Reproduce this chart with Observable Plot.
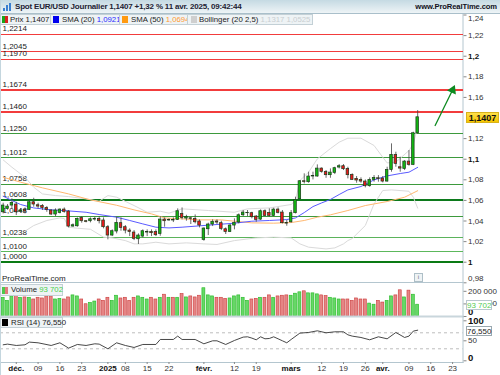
<!DOCTYPE html>
<html><head><meta charset="utf-8">
<script src="https://cdn.jsdelivr.net/npm/d3@7"></script>
<script src="https://cdn.jsdelivr.net/npm/@observablehq/plot@0.6"></script>
<style>
html,body{margin:0;padding:0;background:#fff;overflow:hidden}
#root{position:relative;width:500px;height:375px;font-family:"Liberation Sans",sans-serif;color:#222;overflow:hidden}
.p{position:absolute;left:0}
.p svg{display:block}
.abs{position:absolute;white-space:nowrap}
.box{position:absolute;background:#eef3f5;border:1px solid #c3d0d6;box-sizing:border-box;font-size:7.8px;line-height:9px;white-space:nowrap}
.sw{position:absolute;display:block;width:6px;height:7px;top:1px}
.tag{position:absolute;box-sizing:border-box;text-align:center;white-space:nowrap;font-size:8.6px}
</style></head><body><div id="root"></div>
<script>
const sessions=["2024-11-27","2024-11-28","2024-11-29","2024-12-02","2024-12-03","2024-12-04","2024-12-05","2024-12-06","2024-12-09","2024-12-10","2024-12-11","2024-12-12","2024-12-13","2024-12-16","2024-12-17","2024-12-18","2024-12-19","2024-12-20","2024-12-23","2024-12-24","2024-12-26","2024-12-27","2024-12-30","2024-12-31","2025-01-02","2025-01-03","2025-01-06","2025-01-07","2025-01-08","2025-01-09","2025-01-10","2025-01-13","2025-01-14","2025-01-15","2025-01-16","2025-01-17","2025-01-20","2025-01-21","2025-01-22","2025-01-23","2025-01-24","2025-01-27","2025-01-28","2025-01-29","2025-01-30","2025-01-31","2025-02-03","2025-02-04","2025-02-05","2025-02-06","2025-02-07","2025-02-10","2025-02-11","2025-02-12","2025-02-13","2025-02-14","2025-02-17","2025-02-18","2025-02-19","2025-02-20","2025-02-21","2025-02-24","2025-02-25","2025-02-26","2025-02-27","2025-02-28","2025-03-03","2025-03-04","2025-03-05","2025-03-06","2025-03-07","2025-03-10","2025-03-11","2025-03-12","2025-03-13","2025-03-14","2025-03-17","2025-03-18","2025-03-19","2025-03-20","2025-03-21","2025-03-24","2025-03-25","2025-03-26","2025-03-27","2025-03-28","2025-03-31","2025-04-01","2025-04-02","2025-04-03","2025-04-04","2025-04-07","2025-04-08","2025-04-09","2025-04-10","2025-04-11","2025-04-14","2025-04-15","2025-04-16","2025-04-17","2025-04-18","2025-04-21","2025-04-22","2025-04-23","2025-04-24","2025-04-25"];
const opens=[1.0485,1.0518,1.0550,1.0560,1.0492,1.0508,1.0508,1.0582,1.0553,1.0547,1.0527,1.0502,1.0463,1.0479,1.0511,1.0492,1.0346,1.0349,1.0430,1.0398,1.0398,1.0414,1.0421,1.0405,1.0340,1.0259,1.0298,1.0379,1.0340,1.0307,1.0288,1.0223,1.0249,1.0288,1.0294,1.0294,1.0275,1.0414,1.0405,1.0411,1.0411,1.0469,1.0424,1.0427,1.0421,1.0395,1.0217,1.0320,1.0366,1.0395,1.0379,1.0320,1.0294,1.0356,1.0385,1.0456,1.0476,1.0476,1.0443,1.0414,1.0495,1.0479,1.0450,1.0511,1.0482,1.0382,1.0388,1.0476,1.0612,1.0786,1.0777,1.0832,1.0832,1.0909,1.0877,1.0845,1.0867,1.0919,1.0932,1.0906,1.0848,1.0809,1.0799,1.0783,1.0738,1.0799,1.0815,1.0812,1.0783,1.0896,1.1042,1.0922,1.0906,1.0977,1.0945,1.1252];
const highs=[1.0573,1.0560,1.0615,1.0582,1.0518,1.0527,1.0599,1.0621,1.0573,1.0560,1.0540,1.0511,1.0518,1.0518,1.0527,1.0502,1.0372,1.0430,1.0443,1.0405,1.0430,1.0437,1.0443,1.0430,1.0356,1.0314,1.0437,1.0430,1.0356,1.0324,1.0307,1.0275,1.0314,1.0314,1.0314,1.0314,1.0443,1.0430,1.0421,1.0430,1.0518,1.0527,1.0456,1.0430,1.0459,1.0411,1.0333,1.0379,1.0411,1.0411,1.0398,1.0333,1.0366,1.0421,1.0469,1.0502,1.0502,1.0485,1.0453,1.0508,1.0508,1.0518,1.0524,1.0527,1.0502,1.0405,1.0502,1.0631,1.0793,1.0858,1.0874,1.0874,1.0945,1.0916,1.0890,1.0906,1.0922,1.0948,1.0948,1.0922,1.0858,1.0832,1.0819,1.0799,1.0819,1.0841,1.0841,1.0832,1.0922,1.1149,1.1068,1.1019,1.0987,1.1084,1.1262,1.1472];
const lows=[1.0469,1.0505,1.0518,1.0453,1.0476,1.0469,1.0502,1.0534,1.0518,1.0502,1.0485,1.0453,1.0443,1.0469,1.0476,1.0333,1.0340,1.0340,1.0379,1.0382,1.0382,1.0398,1.0372,1.0324,1.0217,1.0249,1.0275,1.0301,1.0275,1.0249,1.0210,1.0172,1.0236,1.0249,1.0249,1.0249,1.0252,1.0340,1.0398,1.0385,1.0405,1.0411,1.0398,1.0366,1.0372,1.0333,1.0204,1.0259,1.0346,1.0366,1.0307,1.0269,1.0288,1.0314,1.0372,1.0443,1.0443,1.0421,1.0388,1.0405,1.0443,1.0437,1.0443,1.0469,1.0372,1.0349,1.0379,1.0469,1.0605,1.0760,1.0767,1.0799,1.0825,1.0864,1.0815,1.0815,1.0851,1.0906,1.0890,1.0809,1.0793,1.0767,1.0767,1.0722,1.0728,1.0777,1.0777,1.0770,1.0777,1.0874,1.0922,1.0874,1.0890,1.0932,1.0938,1.1246];
const closes=[1.0550,1.0540,1.0576,1.0485,1.0502,1.0492,1.0582,1.0560,1.0540,1.0527,1.0508,1.0463,1.0502,1.0511,1.0489,1.0346,1.0359,1.0421,1.0398,1.0392,1.0417,1.0421,1.0398,1.0340,1.0259,1.0301,1.0382,1.0333,1.0307,1.0294,1.0227,1.0259,1.0301,1.0294,1.0282,1.0262,1.0414,1.0398,1.0411,1.0405,1.0495,1.0430,1.0440,1.0421,1.0388,1.0356,1.0327,1.0366,1.0392,1.0385,1.0324,1.0294,1.0356,1.0382,1.0456,1.0482,1.0479,1.0437,1.0411,1.0495,1.0450,1.0450,1.0511,1.0479,1.0379,1.0375,1.0476,1.0605,1.0786,1.0780,1.0832,1.0838,1.0909,1.0877,1.0845,1.0870,1.0913,1.0932,1.0903,1.0845,1.0799,1.0793,1.0783,1.0738,1.0799,1.0819,1.0809,1.0783,1.0896,1.1042,1.0955,1.0909,1.0977,1.0945,1.1252,1.1407];
const volumes=[148700,124300,159500,167600,148700,151400,148700,135200,148700,143300,159500,159500,135200,140600,135200,151400,167600,159500,135200,97300,108100,118900,135200,124300,148700,124300,164900,143300,148700,124300,148700,159500,148700,135200,148700,135200,148700,173000,148700,148700,148700,178400,151400,159500,151400,164900,224300,167600,159500,148700,148700,140600,143300,159500,167600,148700,124300,135200,140600,148700,148700,167600,148700,159500,164900,167600,164900,181000,192000,200000,183800,183800,175700,167600,162200,148700,143300,135200,135200,135200,124300,143300,135200,135200,102700,93700,124300,110800,124300,159500,167600,208000,151400,205400,173000,93702];
const sma20Idx=[0,2,4,7,11,15,19,22,26,29,32,35,38,41,45,49,53,57,61,65,67,69,71,73,75,77,79,82,85,88,91,93,95];
const sma20=[1.0641,1.0599,1.0560,1.0527,1.0508,1.0498,1.0485,1.0463,1.0437,1.0405,1.0372,1.0340,1.0333,1.0340,1.0353,1.0366,1.0379,1.0398,1.0405,1.0414,1.0430,1.0482,1.0540,1.0576,1.0609,1.0657,1.0702,1.0735,1.0799,1.0838,1.0861,1.0874,1.0921];
const sma50Idx=[0,4,9,15,20,26,30,34,37,41,45,50,53,57,62,66,69,72,75,79,83,88,92,95];
const sma50=[1.0825,1.0777,1.0722,1.0663,1.0605,1.0553,1.0508,1.0469,1.0430,1.0421,1.0411,1.0411,1.0398,1.0382,1.0379,1.0385,1.0405,1.0437,1.0460,1.0502,1.0550,1.0589,1.0631,1.0694];
const bollUpIdx=[0,2,5,7,9,12,15,19,22,24,26,30,33,36,38,41,47,53,56,61,66,67,68,70,72,75,77,79,82,85,87,88,90,93,94,95];
const bollUp=[1.0993,1.0922,1.0825,1.0728,1.0663,1.0647,1.0637,1.0615,1.0592,1.0647,1.0631,1.0550,1.0485,1.0495,1.0476,1.0518,1.0502,1.0485,1.0518,1.0527,1.0560,1.0599,1.0793,1.0874,1.1003,1.1103,1.1165,1.1204,1.1204,1.1133,1.1019,1.0964,1.0971,1.1084,1.1149,1.1317];
const bollLowIdx=[5,7,10,13,14,15,17,20,23,25,28,30,32,35,38,42,46,49,53,58,62,66,68,70,74,76,78,79,80,83,85,87,89,93,94,95];
const bollLow=[1.0301,1.0356,1.0405,1.0430,1.0424,1.0340,1.0330,1.0320,1.0243,1.0236,1.0210,1.0178,1.0178,1.0194,1.0178,1.0188,1.0178,1.0172,1.0210,1.0236,1.0243,1.0236,1.0178,1.0146,1.0129,1.0139,1.0178,1.0210,1.0230,1.0356,1.0566,1.0696,1.0702,1.0689,1.0631,1.0525];
const rsiIdx=[0,1,3,5,6,8,11,13,15,17,19,21,22,24,26,28,30,32,35,36,39,40,41,44,46,48,49,51,53,55,56,57,58,59,60,61,62,63,64,65,66,68,70,72,74,76,78,79,80,82,84,86,88,90,92,93,94,95];
const rsi=[40,41.7,38.3,40,46.7,45,38.3,45,31.7,40.8,38.3,42.5,41.7,30,45,38.3,33.3,40.8,40.8,53.3,53.3,61.7,53.3,53.3,42.5,50,50,40.8,50.8,59.2,60,56.7,52.5,60,55,55.8,60,55,50,45,53.3,69.2,70.8,75,70,72.5,72.5,65,61.7,58.3,52.5,60,55,70.8,58.3,61.7,74.2,76.55];
const redLevels=[1.2214,1.2045,1.1970,1.1674,1.1460];
const redWidths=[1,1,1,2,2];
const greenLevels=[1.1250,1.1012,1.0758,1.0608,1.0448,1.0238,1.0100,1.0000];
const greenWidths=[1,1,1,2,1,1,1,2];
const greenColors=["#3d9a3d","#3d9a3d","#3d9a3d","#0c7a1c","#3d9a3d","#5bb35b","#5cb85c","#0a7a14"];
const priceTicks=[1.22,1.18,1.16,1.12,1.08,1.06,1.04,1.02];
const priceBoldTicks=[1.2,1.1,1];
const dateTicks=["2024-12-09","2024-12-16","2024-12-23","2025-01-08","2025-01-15","2025-01-22","2025-02-12","2025-02-19","2025-03-12","2025-03-19","2025-03-26","2025-04-09","2025-04-16","2025-04-23"];
const dateBoldTicks=["2024-12-02","2025-01-02","2025-02-03","2025-03-03","2025-04-01"];
const dateBoldLabels=["déc.","2025","févr.","mars","avr."];
const arrowFrom={d:"2025-04-17",p:1.1327}, arrowTo={d:"2025-04-23",p:1.1672};

const FONT='"Liberation Sans",sans-serif', W=500, MR=37.5;
const xScale={type:"band",domain:sessions,range:[0.5,463],padding:0,round:false};
const xHidden={...xScale,axis:null};
const comma=d=>String(d).replace(".",",");
const candles=opens.map((o,i)=>({d:sessions[i],o,h:highs[i],l:lows[i],c:closes[i],v:volumes[i],up:closes[i]>=o}));
const sparse=(idx,vals)=>idx.map((k,j)=>({d:sessions[k],v:vals[j]}));
const axisColor="#b4c6cf";
function place(svg,top){const w=document.createElement("div");w.className="p";w.style.top=top+"px";w.appendChild(svg);root.appendChild(w);}
const root=document.getElementById("root");
const base={width:W,marginLeft:0,marginRight:MR,marginTop:0,style:{fontFamily:FONT,fontSize:"8px",color:"#222",background:"transparent",overflow:"visible"}};

const main=Plot.plot({...base,height:268,marginBottom:0,
 x:xHidden,y:{domain:[0.9803,1.2405],range:[268,0]},
 marks:[
  Plot.frame({anchor:"right",stroke:axisColor}),
  Plot.ruleY(redLevels,{y:d=>d,stroke:"#f23c3c",strokeWidth:(d,i)=>redWidths[i],shapeRendering:"crispEdges"}),
  Plot.ruleY(greenLevels,{y:d=>d,stroke:(d,i)=>greenColors[i],strokeWidth:(d,i)=>greenWidths[i],shapeRendering:"crispEdges"}),
  Plot.text([...redLevels,...greenLevels],{y:d=>d,text:d=>d.toFixed(4).replace(".",","),frameAnchor:"left",textAnchor:"start",dx:2,dy:-5.5,fill:"#222"}),
  Plot.line(sparse(bollUpIdx,bollUp),{x:"d",y:"v",stroke:"#dadada",strokeWidth:1}),
  Plot.line(sparse(bollLowIdx,bollLow),{x:"d",y:"v",stroke:"#dadada",strokeWidth:1}),
  Plot.line(sparse(sma50Idx,sma50),{x:"d",y:"v",stroke:"#ffb870",strokeWidth:1}),
  Plot.line(sparse(sma20Idx,sma20),{x:"d",y:"v",stroke:"#5a5aff",strokeWidth:1}),
  Plot.ruleX(candles,{x:"d",y1:"l",y2:"h",stroke:"#444",strokeWidth:0.8}),
  Plot.barY(candles,{x:"d",y1:"o",y2:"c",fill:d=>d.up?"#12b512":"#e8181c",stroke:"#1c3a1c",strokeWidth:0.7,insetLeft:0.9,insetRight:0.9}),
  Plot.arrow([0],{x1:()=>arrowFrom.d,y1:()=>arrowFrom.p,x2:()=>arrowTo.d,y2:()=>arrowTo.p,stroke:"#0d8a20",strokeWidth:1.3,headLength:0}),
  Plot.dot([0],{x:()=>arrowTo.d,y:()=>arrowTo.p,symbol:"triangle",r:3.6,fill:"#0d8a20",rotate:24}),
  Plot.axisY({anchor:"right",ticks:priceTicks,tickFormat:comma,tickSize:3,tickPadding:2,stroke:"#888",fill:"#333",label:null}),
  Plot.axisY({anchor:"right",ticks:priceBoldTicks,tickFormat:comma,tickSize:3,tickPadding:2,stroke:"#888",fill:"#111",fontWeight:"bold",label:null}),
  Plot.axisY({anchor:"right",ticks:[1.24,0.98],tickFormat:()=>"",tickSize:3,stroke:"#888",label:null}),
  Plot.text([1.24],{y:d=>d,text:comma,frameAnchor:"right",textAnchor:"start",dx:5,dy:3,fill:"#333"}),
  Plot.text([0.98],{y:d=>d,text:comma,frameAnchor:"right",textAnchor:"start",dx:5,dy:-4,fill:"#333"})
 ]});
place(main,14);

const vol=Plot.plot({...base,height:34,marginBottom:0,
 x:xHidden,y:{domain:[0,270000],range:[34,0]},
 marks:[
  Plot.frame({anchor:"top",stroke:axisColor}),
  Plot.frame({anchor:"right",stroke:axisColor}),
  Plot.barY(candles,{x:"d",y:"v",fill:d=>d.up?"#66d866":"#e58585",stroke:d=>d.up?"#22b822":"#cc3a3a",strokeWidth:0.6,insetLeft:0.7,insetRight:0.7}),
  Plot.frame({anchor:"bottom",stroke:"#c9d6dc",strokeWidth:2}),
  Plot.axisY({anchor:"right",ticks:[100000,200000],tickFormat:d=>d3.format(",")(d).replace(",","\u00a0"),tickSize:3,tickPadding:2,stroke:"#888",fill:"#333",label:null}),
  Plot.text([0],{y:d=>d,text:String,frameAnchor:"right",textAnchor:"start",dx:5,dy:-5,fontWeight:"bold",fontSize:9.5,fill:"#111"}),
  Plot.axisY({anchor:"right",ticks:[0],tickFormat:()=>"",tickSize:3,stroke:"#888",label:null})
 ]});
place(vol,282);

const ri=Plot.plot({...base,height:59,marginBottom:13,
 x:xScale,y:{domain:[-4.25,110.75],range:[46,0]},
 marks:[
  Plot.frame({anchor:"right",stroke:axisColor}),
  Plot.frame({anchor:"bottom",stroke:axisColor}),
  Plot.ruleY([70,30],{stroke:"#b5b5b5",strokeDasharray:"3,3",strokeWidth:0.9}),
  Plot.line(sparse(rsiIdx,rsi),{x:"d",y:"v",stroke:"#333",strokeWidth:0.9}),
  Plot.axisY({anchor:"right",ticks:[50],tickSize:3,tickPadding:2,stroke:"#888",fill:"#333",label:null}),
  Plot.axisY({anchor:"right",ticks:[100],tickSize:3,tickPadding:2,stroke:"#888",fill:"#111",fontWeight:"bold",fontSize:9.5,label:null}),
  Plot.axisY({anchor:"right",ticks:[0],tickFormat:()=>"",tickSize:3,stroke:"#888",label:null}),
  Plot.text([0],{y:d=>d,text:String,frameAnchor:"right",textAnchor:"start",dx:5,dy:-3,fontWeight:"bold",fontSize:9.5,fill:"#111"}),
  Plot.axisX({anchor:"bottom",ticks:dateTicks,tickFormat:d=>d.slice(8),tickSize:2,tickPadding:1,stroke:"#888",fill:"#333",label:null}),
  Plot.axisX({anchor:"bottom",ticks:dateBoldTicks,tickFormat:d=>dateBoldLabels[dateBoldTicks.indexOf(d)],tickSize:2,tickPadding:1,stroke:"#888",fill:"#111",fontWeight:"bold",label:null})
 ]});
place(ri,316);

const html=`
<div class="abs" style="left:0;top:0;width:500px;height:14px;background:linear-gradient(#c5dae3,#eef4f6);border-bottom:1px solid #a9bfca;box-sizing:border-box"></div>
<div class="abs" style="left:0;top:0;width:1px;height:375px;background:#c4d6de"></div>
<div class="abs" style="left:3px;top:8px;width:1.5px;height:3px;background:#3a7fd0"></div>
<div class="abs" style="left:6px;top:5px;width:1.5px;height:6px;background:#3a7fd0"></div>
<div class="abs" style="left:9px;top:3px;width:1.5px;height:8px;background:#3a7fd0"></div>
<div class="abs" style="left:15px;top:2px;font-size:8px;letter-spacing:-0.2px;line-height:10px;font-weight:bold;color:#223">Spot EUR/USD Journalier 1,1407 +1,32 % 11 avr. 2025, 09:42:44</div>
<div class="abs" style="right:3px;top:2px;font-size:7.6px;letter-spacing:-0.1px;line-height:10px;font-weight:bold;color:#112">www.ProRealTime.com</div>
<div class="box" style="left:0;top:14px;width:51px;height:11px"><i class="sw" style="left:1px;background:linear-gradient(90deg,#19a519 50%,#d92020 50%)"></i><span class="abs" style="left:9px;top:0">Prix 1,1407</span></div>
<div class="box" style="left:50px;top:14px;width:70px;height:11px"><i class="sw" style="left:2px;background:#0000ee"></i><span class="abs" style="left:11px;top:0">SMA (20) <span style="color:#2a2aff">1,0921</span></span></div>
<div class="box" style="left:119px;top:14px;width:69px;height:11px"><i class="sw" style="left:2px;background:#ff9a11"></i><span class="abs" style="left:11px;top:0">SMA (50) <span style="color:#ff9a33">1,0694</span></span></div>
<div class="box" style="left:187px;top:14px;width:126px;height:11px"><i class="sw" style="left:3px;background:#cfcfcf"></i><span class="abs" style="left:11px;top:0">Bollinger (20 2,5) <span style="color:#c9ced1">1,1317 1,0525</span></span></div>
<div class="abs" style="left:2px;top:274px;font-size:8px;line-height:10px;color:#222">ProRealTime.com</div>
<div class="abs" style="left:414px;top:273px;width:7px;height:7px;border:1px solid #aebfc7;background:#eef3f5;font-size:6px;line-height:7px;text-align:center;color:#667">i</div>
<div class="box" style="left:0;top:284px;width:63px;height:12px;line-height:10px"><i class="sw" style="left:1px;top:2px;background:linear-gradient(90deg,#4cc94c 50%,#e07a7a 50%)"></i><span class="abs" style="left:10px;top:0">Volume <span style="color:#4cd04c">93 702</span></span></div>
<div class="box" style="left:0;top:317px;width:63px;height:11px"><i class="sw" style="left:1px;background:#000"></i><span class="abs" style="left:10px;top:0">RSI (14) 76,550</span></div>
<div class="tag" style="left:466px;top:112px;width:33px;height:11px;line-height:10px;background:linear-gradient(#ffe04a,#f5c400);border:1px solid #d8b21a;font-weight:bold;color:#111;font-size:9px">1,1407</div>
<div class="tag" style="left:466px;top:300px;width:26px;height:10px;line-height:9px;background:#fff;border:1px solid #b9c7ce;color:#55cc55;font-size:8px">93 702</div>
<div class="tag" style="left:466px;top:326px;width:26px;height:10px;line-height:9px;background:#fff;border:1px solid #9aa8af;color:#222;font-size:8px">76,550</div>`;
root.insertAdjacentHTML("beforeend",html);
</script></body></html>
